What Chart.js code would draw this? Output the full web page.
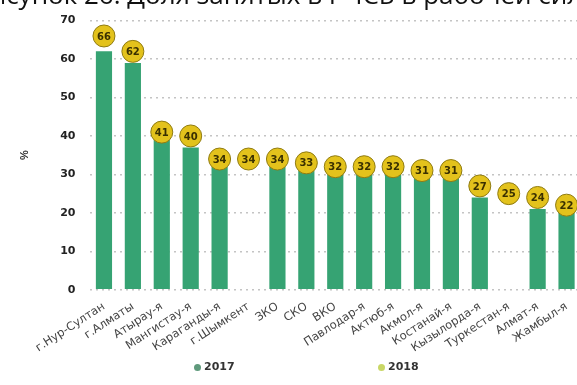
<!DOCTYPE html>
<html>
<head>
<meta charset="utf-8">
<script src="https://cdn.jsdelivr.net/npm/chart.js@4"></script>
<style>
  body { margin: 0; background: #fff; overflow: hidden; }
  .wrap { position: relative; width: 577px; height: 385px; overflow: hidden; }
  .title { position: absolute; left: -26px; top: -24px; font: 26px "Open Sans", sans-serif; color: #111; white-space: nowrap; }
  .legend { position: absolute; top: 360px; font: bold 11px "DejaVu Sans", sans-serif; color: #333; }
  .legend span.dot { display: inline-block; width: 7px; height: 7px; border-radius: 50%; margin-right: 3px; vertical-align: middle; }
</style>
</head>
<body>
<div class="wrap">
  <canvas id="myChart" width="593" height="385"></canvas>
  <div class="title">Рисунок 26: Доля занятых в РЧСБ в рабочей силе</div>
  <div class="legend" style="left:194px"><span class="dot" style="background:#5f9a7c"></span>2017</div>
  <div class="legend" style="left:378px"><span class="dot" style="background:#c9d766"></span>2018</div>
</div>
<script>
// regions
var regions = ['г.Нур-Султан', 'г.Алматы', 'Атырау-я', 'Мангистау-я', 'Караганды-я', 'г.Шымкент',
  'ЗКО', 'СКО', 'ВКО', 'Павлодар-я', 'Актюб-я', 'Акмол-я', 'Костанай-я', 'Кызылорда-я',
  'Туркестан-я', 'Алмат-я', 'Жамбыл-я'];
var share2017 = [62, 59, 39, 37, 32, null, 32, 31, 30, 30, 30, 29, 29, 24, null, 21, 20];
var share2018 = [66, 62, 41, 40, 34, 34, 34, 33, 32, 32, 32, 31, 31, 27, 25, 24, 22];
var yTicks = [0, 10, 20, 30, 40, 50, 60, 70];

// numbers inside the yellow circles
var pointLabels = {
  id: 'pointLabels',
  afterDatasetsDraw: function(chart) {
    var ctx = chart.ctx;
    var meta = chart.getDatasetMeta(1);
    ctx.save();
    ctx.font = 'bold 10px "DejaVu Sans", sans-serif';
    ctx.fillStyle = '#3a3000';
    ctx.textAlign = 'center';
    ctx.textBaseline = 'middle';
    meta.data.forEach(function(pt, i) {
      ctx.fillText(share2018[i], pt.x, pt.y + 1);
    });
    ctx.restore();
  }
};

var ctx = document.getElementById('myChart').getContext('2d');
var myChart = new Chart(ctx, {
    type: 'bar',
    data: {
        labels: regions,
        datasets: [{
            label: '2017',
            data: share2017,
            backgroundColor: '#36a373',
            barPercentage: 0.56,
            categoryPercentage: 1,
            order: 2
        }, {
            label: '2018',
            type: 'line',
            data: share2018,
            showLine: false,
            pointRadius: 11,
            pointHoverRadius: 11,
            pointBackgroundColor: '#e3c21c',
            pointBorderColor: '#8f7b12',
            pointBorderWidth: 1,
            clip: false,
            order: 1
        }]
    },
    plugins: [pointLabels],
    options: {
        responsive: false,
        animation: false,
        layout: { padding: { top: 10, right: 6, bottom: 28, left: 14 } },
        plugins: {
            legend: { display: false },
            tooltip: { enabled: false }
        },
        scales: {
            x: {
                grid: { display: false },
                border: { display: false },
                ticks: {
                    color: '#444',
                    font: { size: 11.5, family: '"DejaVu Sans", sans-serif' },
                    minRotation: 33,
                    maxRotation: 33,
                    autoSkip: false,
                    padding: 2
                }
            },
            y: {
                min: 0,
                max: 70,
                afterBuildTicks: function(axis) {
                    axis.ticks = yTicks.map(function(v) { return { value: v }; });
                },
                title: {
                    display: true,
                    text: '%',
                    color: '#333',
                    padding: { top: 4, bottom: 15 },
                    font: { size: 11, weight: 'bold' }
                },
                grid: {
                    color: '#c4c4c4',
                    lineWidth: 1.5,
                    drawTicks: false
                },
                border: { display: false, dash: [2, 4] },
                ticks: {
                    color: '#222',
                    padding: 14,
                    font: { size: 11, weight: 'bold', family: '"DejaVu Sans", sans-serif' }
                }
            }
        }
    }
});
</script>
</body>
</html>
